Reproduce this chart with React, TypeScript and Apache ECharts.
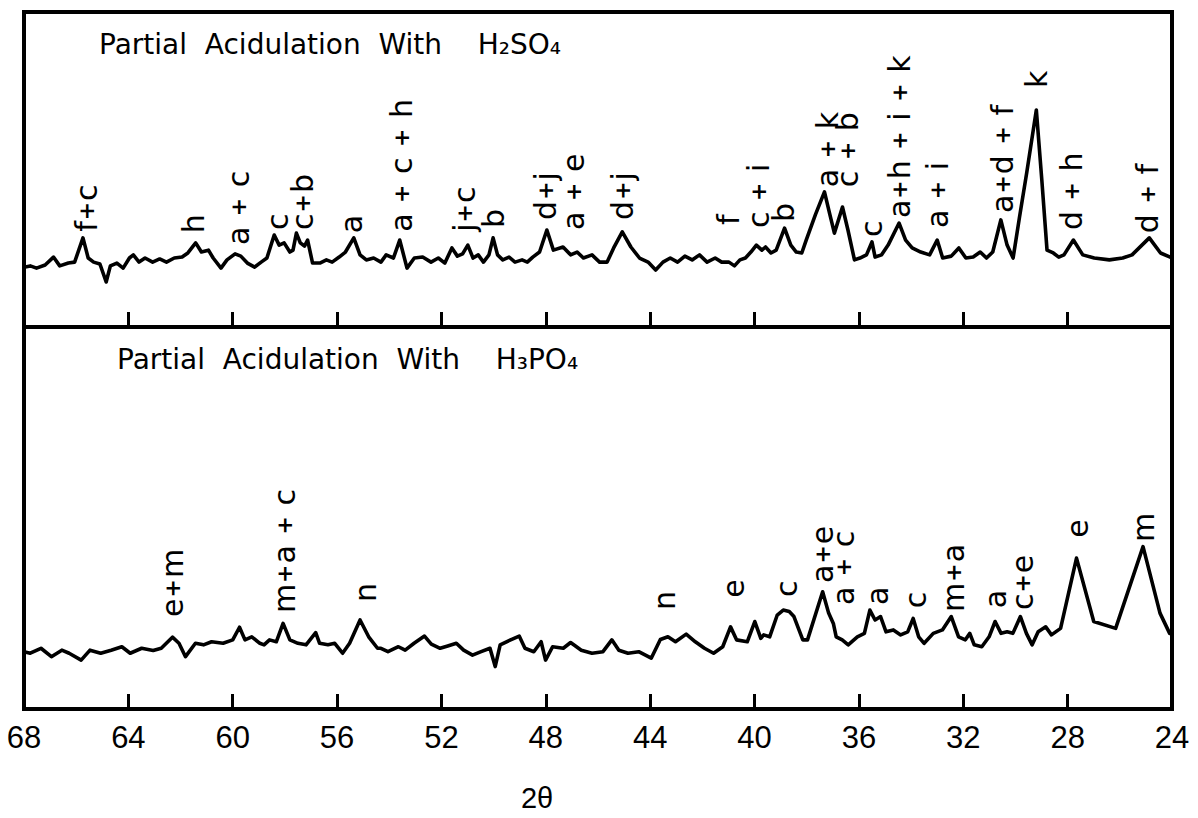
import React, { useEffect, useRef } from 'react';
import * as echarts from 'echarts';

// ---- Data (2θ in degrees, intensity in arbitrary units) ----
const h2so4Trace: [number, number][] = [
  [68.00,19.0],[67.76,19.4],[67.52,18.7],[67.19,19.7],[66.87,22.2],[66.63,19.4],[66.30,20.3],[66.06,20.6],[65.74,28.3],[65.54,21.9],
  [65.33,20.6],[65.09,20.0],[64.85,14.3],[64.69,19.4],[64.44,20.3],[64.20,18.7],[63.96,21.9],[63.81,22.9],[63.59,20.6],[63.36,21.9],
  [63.07,20.6],[62.80,21.6],[62.54,20.6],[62.24,21.9],[61.94,22.2],[61.72,23.5],[61.42,26.7],[61.20,23.8],[60.93,24.4],[60.75,21.9],
  [60.45,18.7],[60.22,21.3],[59.91,23.2],[59.69,22.5],[59.44,20.3],[59.16,19.0],[58.91,20.6],[58.69,21.9],[58.41,29.2],[58.22,26.0],
  [58.03,26.7],[57.81,23.8],[57.69,24.4],[57.56,29.8],[57.41,26.7],[57.25,25.7],[57.13,27.6],[56.94,20.3],[56.66,20.3],[56.41,21.3],
  [56.19,20.6],[55.92,22.2],[55.68,23.8],[55.36,28.3],[55.12,22.9],[54.88,21.3],[54.60,21.9],[54.32,20.6],[54.12,22.9],[53.84,21.9],
  [53.60,27.6],[53.32,18.7],[53.04,21.9],[52.72,22.2],[52.40,20.6],[52.12,21.9],[51.87,20.3],[51.60,25.1],[51.39,22.5],[51.19,23.2],
  [50.99,26.0],[50.79,21.9],[50.59,22.9],[50.39,20.6],[50.18,22.9],[50.02,28.3],[49.85,22.9],[49.65,21.3],[49.41,22.2],[49.18,20.6],
  [48.91,21.3],[48.71,20.6],[48.50,22.2],[48.24,23.8],[47.96,30.8],[47.71,24.4],[47.34,25.4],[47.05,22.9],[46.80,23.8],[46.56,21.9],
  [46.23,22.9],[45.94,20.6],[45.65,20.6],[45.40,25.1],[45.07,30.2],[44.74,25.4],[44.41,21.9],[44.08,20.6],[43.79,18.1],[43.51,20.6],
  [43.23,21.9],[42.95,20.6],[42.67,22.5],[42.39,21.3],[42.11,22.9],[41.82,20.6],[41.51,21.9],[41.26,20.6],[40.98,20.6],[40.77,19.4],
  [40.56,21.3],[40.35,21.9],[40.14,23.8],[39.93,26.0],[39.72,24.4],[39.58,25.4],[39.37,23.5],[39.17,24.4],[38.85,31.4],[38.61,26.0],
  [38.40,23.8],[38.19,23.5],[38.02,27.6],[37.67,35.6],[37.32,42.9],[37.11,35.6],[36.94,29.8],[36.63,38.1],[36.42,30.8],[36.17,21.3],
  [35.96,21.9],[35.71,22.9],[35.50,27.0],[35.38,22.2],[35.13,22.9],[34.88,26.0],[34.46,33.0],[34.21,27.6],[33.96,25.1],[33.63,23.8],
  [33.29,22.9],[33.00,27.6],[32.79,21.9],[32.46,22.5],[32.17,25.1],[31.90,21.9],[31.62,22.2],[31.35,23.8],[31.11,21.9],[30.87,23.8],
  [30.56,34.0],[30.32,26.0],[30.09,21.9],[29.85,34.6],[29.57,48.9],[29.20,68.9],[28.99,46.7],[28.79,24.4],[28.55,23.5],[28.34,22.2],
  [28.14,22.9],[27.78,27.6],[27.42,22.9],[26.98,21.9],[26.40,21.3],[25.89,21.9],[25.53,22.9],[24.87,28.3],[24.44,23.5],[24.07,22.2],
];

const h3po4Trace: [number, number][] = [
  [67.96,14.9],[67.76,14.6],[67.35,15.9],[66.95,13.7],[66.55,15.4],[66.27,14.6],[65.81,12.8],[65.47,15.4],[65.06,14.6],[64.66,15.4],
  [64.25,16.3],[63.93,14.6],[63.49,15.9],[63.05,15.3],[62.74,15.9],[62.31,18.8],[62.06,17.2],[61.81,13.7],[61.43,17.2],[61.12,16.8],
  [60.81,17.6],[60.37,17.2],[60.00,18.1],[59.74,21.4],[59.53,18.1],[59.27,18.9],[58.96,17.2],[58.80,16.8],[58.59,18.1],[58.33,17.6],
  [58.07,22.4],[57.81,18.1],[57.50,17.2],[57.19,16.8],[56.82,20.0],[56.67,17.2],[56.35,16.8],[56.09,17.2],[55.79,14.6],[55.52,17.2],
  [55.12,23.3],[54.79,18.9],[54.45,15.9],[54.32,15.9],[54.05,15.0],[53.65,16.3],[53.39,15.4],[53.05,17.2],[52.65,19.1],[52.39,17.0],
  [52.05,15.9],[51.76,16.5],[51.43,17.2],[51.15,15.4],[50.81,14.1],[50.48,15.0],[50.14,15.9],[49.94,11.1],[49.75,16.8],[49.35,18.1],
  [49.02,19.1],[48.80,15.9],[48.46,15.0],[48.18,17.6],[48.01,12.8],[47.74,16.3],[47.33,15.9],[47.05,17.4],[46.64,15.4],[46.23,14.6],
  [45.81,15.0],[45.47,18.1],[45.20,15.4],[44.85,14.6],[44.44,15.0],[43.96,13.3],[43.61,18.2],[43.32,18.9],[43.03,17.6],[42.62,19.6],
  [42.27,17.6],[41.92,15.9],[41.57,14.6],[41.22,16.3],[40.92,21.5],[40.69,18.1],[40.28,17.6],[39.99,22.9],[39.76,18.5],[39.65,19.4],
  [39.42,18.9],[39.13,24.6],[38.90,25.9],[38.67,25.5],[38.49,24.2],[38.15,18.1],[37.97,18.1],[37.39,30.7],[37.16,25.1],[36.98,22.4],
  [36.87,18.9],[36.64,18.1],[36.41,16.8],[36.06,18.9],[35.79,19.8],[35.58,25.9],[35.38,23.3],[35.17,24.2],[34.96,20.2],[34.68,20.7],
  [34.40,19.4],[34.13,20.2],[33.92,23.7],[33.71,18.9],[33.50,17.2],[33.15,19.8],[32.80,20.7],[32.46,24.2],[32.18,18.9],[31.92,18.1],
  [31.75,19.8],[31.58,16.8],[31.29,16.3],[31.01,18.9],[30.78,22.9],[30.55,19.8],[30.32,20.2],[30.10,19.8],[29.81,24.2],[29.58,19.8],
  [29.36,16.8],[29.13,20.2],[28.84,21.5],[28.62,19.4],[28.27,21.1],[27.66,39.5],[27.00,22.9],[26.16,21.1],[25.11,42.5],[24.46,25.1],
  [24.09,19.8],
];

// Peak annotations (phase letters), anchored at 2θ and intensity of label foot
const h2so4LabelText = ['f+c','h','a + c','c','c+b','a','a + c + h','j+c','b','d+j','a + e','d+j','f','c + i','b','a + k','c + b','c','a+h + i + k','a + i','a+d + f','k','d + h','d + f'];
const h2so4LabelX = [65.62,61.50,59.78,58.28,57.34,55.44,53.52,51.13,50.02,48.00,46.93,45.07,40.98,39.86,38.89,37.22,36.42,35.50,34.46,33.00,30.50,29.20,27.85,24.95];
const h2so4LabelY = [30.2,29.8,26.0,30.8,30.8,29.8,30.2,30.2,31.4,34.0,30.8,34.0,32.4,31.4,33.3,44.4,44.4,28.6,34.6,31.4,36.2,75.9,30.8,29.8];

const h3po4LabelText = ['e+m','m+a + c','n','n','e','c','a+e','a + c','a','c','m+a','a','c+e','e','m'];
const h3po4LabelX = [62.32,58.03,54.92,43.44,40.81,38.78,37.39,36.59,35.29,33.83,32.38,30.77,29.74,27.64,25.09];
const h3po4LabelY = [24.1,25.1,28.0,25.9,29.1,29.3,33.0,27.2,27.2,26.4,25.4,26.4,25.9,44.8,43.7];

const titleTop = 'Partial\u00a0 Acidulation\u00a0 With\u00a0\u00a0\u00a0 H₂SO₄';
const titleBottom = 'Partial\u00a0 Acidulation\u00a0 With\u00a0\u00a0\u00a0 H₃PO₄';
const axisTitle = '2θ';

const FONT = "'DejaVu Sans', 'Noto Sans', sans-serif";
const TICKFONT = "'Liberation Sans', 'DejaVu Sans', sans-serif";

function labelSeries(texts: string[], xs: number[], ys: number[], idx: number) {
  return {
    type: 'custom',
    coordinateSystem: 'cartesian2d',
    xAxisIndex: idx,
    yAxisIndex: idx,
    silent: true,
    encode: { x: 0, y: 1 },
    data: xs.map((x, i) => [x, ys[i]]),
    renderItem: (params: any, api: any) => {
      const pt = api.coord([api.value(0), api.value(1)]);
      const raw = texts[params.dataIndex];
      const text = raw.replace(/\+/g, '{p|+}');
      return {
        type: 'text',
        x: pt[0],
        y: pt[1],
        rotation: Math.PI / 2,
        style: {
          text,
          fill: '#000',
          fontSize: 30,
          fontFamily: FONT,
          align: 'left',
          verticalAlign: 'middle',
          rich: {
            p: { fontSize: 22, fontWeight: 'bold', fill: '#000', fontFamily: FONT, padding: [0, 1] },
          },
        },
      };
    },
  };
}

export default function App() {
  const ref = useRef<HTMLDivElement>(null);
  useEffect(() => {
    if (!ref.current) return;
    const chart = echarts.init(ref.current, undefined, { renderer: 'svg' });
    const tick = { show: true, inside: true, length: 15, lineStyle: { color: '#000', width: 3 } };
    chart.setOption({
      animation: false,
      backgroundColor: '#fff',
      title: [
        { text: titleTop, left: 94, top: 25, textStyle: { fontSize: 28, fontWeight: 'normal', color: '#000', fontFamily: FONT } },
        { text: titleBottom, left: 112, top: 340, textStyle: { fontSize: 28, fontWeight: 'normal', color: '#000', fontFamily: FONT } },
      ],
      grid: [
        { left: 24, top: 12, width: 1148, height: 315, show: true, borderColor: '#000', borderWidth: 4, backgroundColor: 'transparent' },
        { left: 24, top: 327, width: 1148, height: 382, show: true, borderColor: '#000', borderWidth: 4, backgroundColor: 'transparent' },
      ],
      xAxis: [
        {
          gridIndex: 0, type: 'value', min: 24, max: 68, interval: 4, inverse: true,
          axisLine: { show: false }, axisTick: tick, axisLabel: { show: false }, splitLine: { show: false },
        },
        {
          gridIndex: 1, type: 'value', min: 24, max: 68, interval: 4, inverse: true,
          axisLine: { show: false }, axisTick: tick, splitLine: { show: false },
          axisLabel: { show: true, color: '#000', fontSize: 31, fontFamily: TICKFONT, margin: 13, showMinLabel: true, showMaxLabel: true },
        },
      ],
      yAxis: [
        { gridIndex: 0, type: 'value', min: 0, max: 100, show: false, splitLine: { show: false } },
        { gridIndex: 1, type: 'value', min: 0, max: 100, show: false, splitLine: { show: false } },
      ],
      graphic: [
        { type: 'text', x: 537, y: 798, silent: true, style: { text: axisTitle, fill: '#000', fontSize: 29, fontFamily: TICKFONT, align: 'center', verticalAlign: 'middle' } },
      ],
      series: [
        {
          type: 'line', xAxisIndex: 0, yAxisIndex: 0, data: h2so4Trace, showSymbol: false, silent: true,
          lineStyle: { color: '#000', width: 3.6, join: 'round', cap: 'round' },
        },
        {
          type: 'line', xAxisIndex: 1, yAxisIndex: 1, data: h3po4Trace, showSymbol: false, silent: true,
          lineStyle: { color: '#000', width: 3.6, join: 'round', cap: 'round' },
        },
        labelSeries(h2so4LabelText, h2so4LabelX, h2so4LabelY, 0),
        labelSeries(h3po4LabelText, h3po4LabelX, h3po4LabelY, 1),
      ],
    });
    return () => chart.dispose();
  }, []);
  return <div ref={ref} style={{ position: 'absolute', left: 0, top: 0, width: 1198, height: 818 }} />;
}
